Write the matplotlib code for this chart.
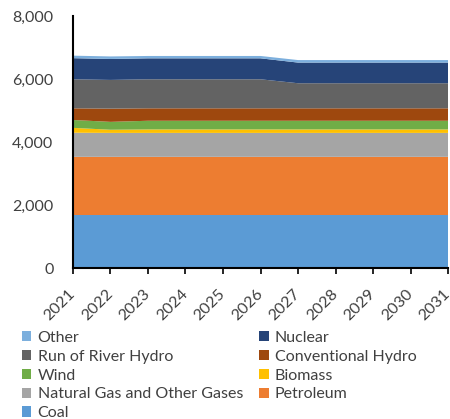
#Stacked area chart of generation capacity by fuel type, 2021-2031
import matplotlib
matplotlib.use('Agg')
import matplotlib.pyplot as pyplot
from matplotlib.ticker import FuncFormatter

pyplot.rcParams['font.family'] = ['Lato', 'DejaVu Sans']

#######################
###Chart data##########
#######################
years = [2021, 2022, 2023, 2024, 2025, 2026, 2027, 2028, 2029, 2030, 2031]
coal = [1690, 1690, 1690, 1690, 1690, 1690, 1690, 1690, 1690, 1690, 1690]
petroleum = [1840, 1840, 1840, 1840, 1840, 1840, 1840, 1840, 1840, 1840, 1840]
natGas = [765, 760, 760, 760, 760, 760, 760, 760, 760, 760, 760]
biomass = [155, 100, 110, 110, 110, 110, 110, 110, 110, 110, 110]
wind = [250, 250, 275, 275, 275, 275, 275, 275, 275, 275, 275]
convHydro = [370, 420, 395, 395, 395, 395, 395, 395, 395, 395, 395]
rorHydro = [920, 910, 920, 920, 920, 920, 795, 795, 795, 795, 795]
nuclear = [670, 665, 665, 665, 665, 665, 655, 655, 655, 655, 655]
other = [80, 80, 75, 75, 75, 75, 80, 80, 80, 80, 80]

names = ['Coal', 'Petroleum', 'Natural Gas and Other Gases', 'Biomass', 'Wind',
         'Conventional Hydro', 'Run of River Hydro', 'Nuclear', 'Other']
series = [coal, petroleum, natGas, biomass, wind, convHydro, rorHydro, nuclear, other]
colors = ['#5B9BD5', '#ED7D31', '#A5A5A5', '#FFC000', '#70AD47',
          '#9E480E', '#636363', '#264478', '#7CAFDD']

fig = pyplot.figure(figsize=(4.5, 4.19), dpi=100)
ax = fig.add_axes([0.162, 0.36, 0.834, 0.602])
polys = ax.stackplot(years, *series, colors=colors, labels=names, linewidth=0)

ax.set_xlim(2021, 2031)
ax.set_ylim(0, 8000)
ax.set_yticks([0, 2000, 4000, 6000, 8000])
ax.yaxis.set_major_formatter(FuncFormatter(lambda v, p: '{:,.0f}'.format(v)))
ax.set_xticks(years)
ax.set_xticklabels([str(y) for y in years], rotation=45, ha='right',
                   rotation_mode='anchor', va='center')
ax.tick_params(axis='y', length=0, labelsize=11.5, pad=14)
ax.tick_params(axis='x', length=4, width=1.2, labelsize=11.5, pad=13,
               direction='out', colors='black')
for lab in ax.get_xticklabels() + ax.get_yticklabels():
    lab.set_color('#404040')
for side in ['top', 'right']:
    ax.spines[side].set_visible(False)
ax.spines['left'].set_linewidth(1.5)
ax.spines['bottom'].set_linewidth(1.5)

#legend rows: Other/Nuclear, ROR/Conv, Wind/Biomass, Gas/Petroleum, Coal
order = [8, 6, 4, 2, 0, 7, 5, 3, 1]
fig.legend([polys[i] for i in order], [names[i] for i in order],
           loc='upper left', bbox_to_anchor=(0.048, 0.21), ncol=2,
           frameon=False, fontsize=11.5, handlelength=0.6, handleheight=0.6,
           handletextpad=0.4, labelspacing=0.3, columnspacing=1.0,
           borderpad=0, borderaxespad=0, labelcolor='#404040')

fig.savefig('out.png', dpi=100)
